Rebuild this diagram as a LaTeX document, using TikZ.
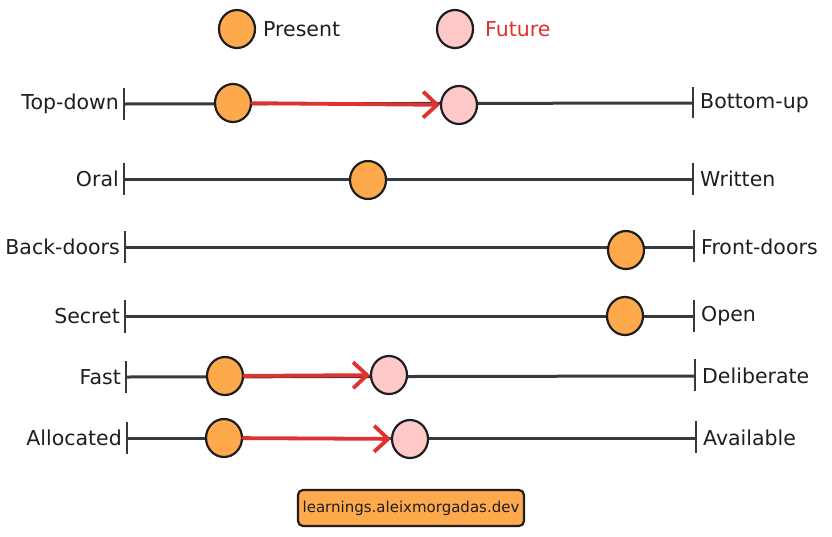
\documentclass[tikz,border=0pt]{standalone}
\usepackage{fontspec}
\setmainfont{DejaVu Sans}
\usetikzlibrary{arrows.meta,shapes.geometric}
\definecolor{ink}{HTML}{343A40}
\definecolor{txt}{HTML}{1E1E1E}
\definecolor{pres}{HTML}{FFA94D}
\definecolor{fut}{HTML}{FFC9C9}
\definecolor{arr}{HTML}{E03131}
\tikzset{
  axis/.style={draw=ink, line width=3pt},
  tickmark/.style={draw=ink, line width=2.2pt},
  dotp/.style={ellipse, minimum width=36pt, minimum height=38pt, inner sep=0pt, draw=txt, line width=2.2pt, fill=pres},
  dotf/.style={ellipse, minimum width=36pt, minimum height=38pt, inner sep=0pt, draw=txt, line width=2.2pt, fill=fut},
  lbl/.style={text=txt, font=\fontsize{20.5}{24}\selectfont, inner sep=0pt},
  lleft/.style={lbl, anchor=east, xshift=-5pt},
  lright/.style={lbl, anchor=west, xshift=7pt},
  move/.style={draw=arr, line width=3.8pt, line cap=round, -{Straight Barb[length=14pt,width=26pt,line width=3.8pt]}},
}
\begin{document}
\begin{tikzpicture}[x=1pt,y=-1pt]
\useasboundingbox (0,0) rectangle (832,536);
% legend
\node[dotp] (lp) at (237,29) {};
\node[lbl, anchor=west] (lpt) at (263,29) {Present};
\node[dotf] (lf) at (455,29) {};
\node[lbl, anchor=west, text=arr] (lft) at (485,29) {Future};

% row 1
\coordinate (a1) at (124,104); \coordinate (b1) at (693,103);
\draw[tickmark] (124,88) -- (124,120); \draw[tickmark] (693,87) -- (693,118);
\draw[axis] (a1) -- (b1);
\node[lleft] (l1) at (a1) {Top-down};
\node[lright] (r1) at (b1) {Bottom-up};
\node[dotp] (p1) at (233,103) {};
\node[dotf] (f1) at (459,105) {};
\draw[move] (p1) -- (f1);

% row 2
\coordinate (a2) at (124,179); \coordinate (b2) at (693,179);
\draw[tickmark] (124,163) -- (124,195); \draw[tickmark] (693,163) -- (693,195);
\draw[axis] (a2) -- (b2);
\node[lleft] (l2) at (a2) {Oral};
\node[lright] (r2) at (b2) {Written};
\node[dotp] (p2) at (368,180) {};

% row 3
\coordinate (a3) at (125,247); \coordinate (b3) at (694,247);
\draw[tickmark] (125,231) -- (125,263); \draw[tickmark] (694,230) -- (694,262);
\draw[axis] (a3) -- (b3);
\node[lleft] (l3) at (a3) {Back-doors};
\node[lright] (r3) at (b3) {Front-doors};
\node[dotp] (p3) at (626,250) {};

% row 4
\coordinate (a4) at (125,316); \coordinate (b4) at (694,316);
\draw[tickmark] (125,300) -- (125,333); \draw[tickmark] (694,300) -- (694,332);
\draw[axis] (a4) -- (b4);
\node[lleft] (l4) at (a4) {Secret};
\node[lright] (r4) at (b4) {Open};
\node[dotp] (p4) at (625,316) {};

% row 5
\coordinate (a5) at (126,377); \coordinate (b5) at (695,376);
\draw[tickmark] (126,361) -- (126,393); \draw[tickmark] (695,359) -- (695,391);
\draw[axis] (a5) -- (b5);
\node[lleft] (l5) at (a5) {Fast};
\node[lright] (r5) at (b5) {Deliberate};
\node[dotp] (p5) at (225,376) {};
\node[dotf] (f5) at (389,375) {};
\draw[move] (p5) -- (f5);

% row 6
\coordinate (a6) at (127,438); \coordinate (b6) at (696,438);
\draw[tickmark] (127,422) -- (127,454); \draw[tickmark] (696,421) -- (696,453);
\draw[axis] (a6) -- (b6);
\node[lleft] (l6) at (a6) {Allocated};
\node[lright] (r6) at (b6) {Available};
\node[dotp] (p6) at (224,438) {};
\node[dotf] (f6) at (410,439) {};
\draw[move] (p6) -- (f6);

% footer
\node[draw=txt, line width=2.2pt, fill=pres, rounded corners=5pt, minimum width=226pt, minimum height=36pt, text=txt, font=\fontsize{15}{18}\selectfont] (foot) at (411,508) {learnings.aleixmorgadas.dev};
\end{tikzpicture}
\end{document}
